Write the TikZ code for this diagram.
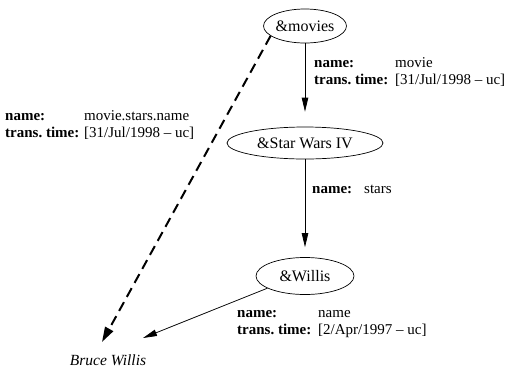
\documentclass[tikz,border=0pt]{standalone}
\usepackage{fontspec}
\setmainfont{Liberation Serif}
\usetikzlibrary{shapes.geometric,arrows.meta}
\newcommand\lblcol[2]{\makebox[#1][l]{\textbf{#2}}}
\tikzset{
  obj/.style={draw, ellipse, line width=0.7pt, inner sep=0pt, font=\fontsize{16}{18}\selectfont},
  lbl/.style={anchor=west, align=left, inner sep=0pt, font=\fontsize{15}{17.5}\selectfont\frenchspacing},
  edge/.style={line width=0.75pt, -{Triangle[length=14pt,width=6.5pt]}},
  derived/.style={line width=2pt, dash pattern=on 10pt off 6pt, -{Triangle[length=15pt,width=9pt]}},
}
\begin{document}
\begin{tikzpicture}[x=1pt,y=-1pt]
\useasboundingbox (0,0) rectangle (509,373);
\node[obj, minimum width=82pt, minimum height=34pt] (movies) at (305,26) {\&movies};
\node[obj, minimum width=156pt, minimum height=32pt] (sw) at (305,143) {\&Star Wars IV};
\node[obj, minimum width=98pt, minimum height=37pt] (willis) at (305,276) {\&Willis};
\node[font=\fontsize{15.5}{17.5}\selectfont\itshape, inner sep=0pt] (bw) at (108,360) {Bruce Willis};
\coordinate (dtip) at (102,342);
\coordinate (wtip) at (143,338);

\draw[edge, shorten >=15pt] (movies) -- (sw);
\draw[edge, shorten >=10pt] (sw) -- (willis);
\draw[edge] (willis.198) -- (wtip);
\draw[derived] (movies.196) -- (dtip);

\node[lbl] (l1) at (314,72) {\lblcol{81pt}{name:}movie\\\lblcol{81pt}{trans.\ time:}[31/Jul/1998 -- uc]};
\node[lbl] (l2) at (312,189) {\textbf{name:}\hspace{12pt}stars};
\node[lbl] (l3) at (237,324) {\lblcol{81pt}{name:}name\\\lblcol{81pt}{trans.\ time:}[2/Apr/1997 -- uc]};
\node[lbl] (l4) at (5,125) {\lblcol{79pt}{name:}movie.stars.name\\\lblcol{79pt}{trans.\ time:}[31/Jul/1998 -- uc]};
\end{tikzpicture}
\end{document}
